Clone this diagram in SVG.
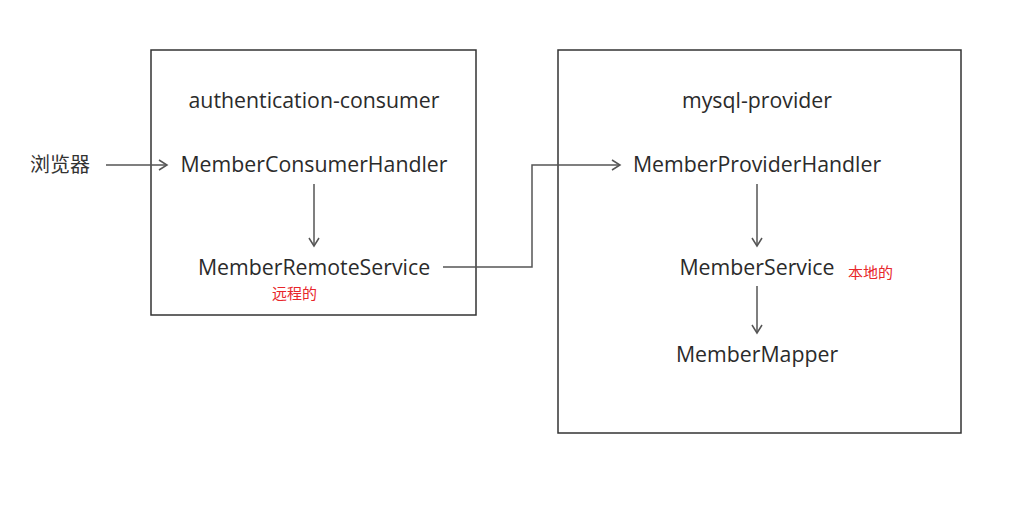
<svg xmlns="http://www.w3.org/2000/svg" width="1033" height="530" viewBox="0 0 1033 530">
<style>
.box{fill:none;stroke:#333;stroke-width:1.5}
.t{font-family:"Open Sans","Noto Sans","Liberation Sans",sans-serif;font-size:21.3px;fill:#2b2b2b;text-anchor:middle}
.cn{font-family:"Noto Sans CJK SC",sans-serif;font-size:20px;fill:#333}
.red{font-family:"Noto Sans CJK SC",sans-serif;font-size:15px;fill:#e8262a}
.ln{fill:none;stroke:#555;stroke-width:1.5;marker-end:url(#ah)}
</style>
<defs>
<marker id="ah" markerWidth="12" markerHeight="12" refX="10" refY="6" orient="auto" markerUnits="userSpaceOnUse">
<path d="M2,1 L10,6 L2,11" fill="none" stroke="#555" stroke-width="1.5"/>
</marker>
</defs>
<rect width="1033" height="530" fill="#fff"/>
<g id="consumer">
<rect class="box" x="151" y="50" width="325" height="265"/>
<text class="t" x="314" y="108">authentication-consumer</text>
</g>
<g id="provider">
<rect class="box" x="558" y="50" width="403" height="383"/>
<text class="t" x="757" y="108">mysql-provider</text>
</g>
<g id="browser"><text class="cn" x="30" y="172">浏览器</text></g>
<g id="consumerHandler"><text class="t" x="314" y="172">MemberConsumerHandler</text></g>
<g id="remoteService"><text class="t" x="314" y="275">MemberRemoteService</text>
<text class="red" x="272" y="299">远程的</text></g>
<g id="providerHandler"><text class="t" x="757" y="172">MemberProviderHandler</text></g>
<g id="memberService"><text class="t" x="757" y="275">MemberService</text>
<text class="red" x="848" y="278">本地的</text></g>
<g id="memberMapper"><text class="t" x="757" y="362">MemberMapper</text></g>
<g id="connectors">
<path class="ln" d="M106,165 H167"/>
<path class="ln" d="M314,184 V246"/>
<path class="ln" d="M443,267 H532 V165 H620"/>
<path class="ln" d="M757,184 V246"/>
<path class="ln" d="M757,286 V333"/>
</g>
</svg>
